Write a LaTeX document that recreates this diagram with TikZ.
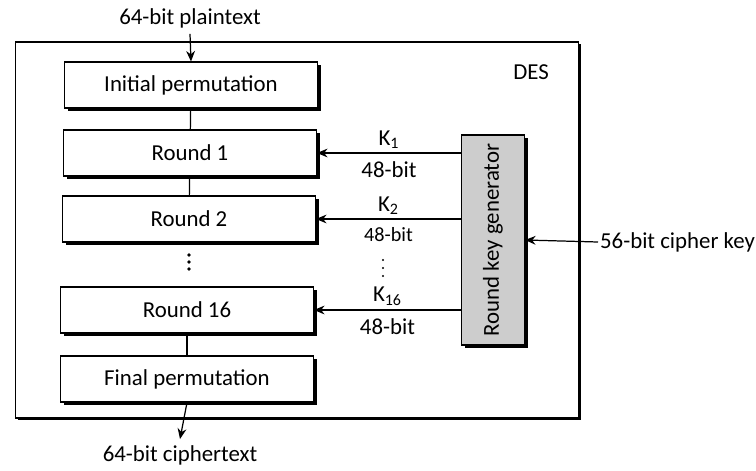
\documentclass[tikz,border=0pt]{standalone}
\usepackage{fontspec}
\setmainfont{Carlito}
\usetikzlibrary{arrows.meta,positioning,shadows}
\definecolor{keygray}{RGB}{205,205,205}

\begin{document}
\begin{tikzpicture}[x=0.02cm,y=-0.02cm,
  font=\fontsize{13}{16}\selectfont,
  stage/.style={draw,fill=white,line width=0.6pt,minimum width=5.06cm,minimum height=0.92cm,
    drop shadow={shadow xshift=1.8pt,shadow yshift=-1.8pt,opacity=1,fill=black}},
  keybox/.style={draw,fill=keygray,line width=0.6pt,minimum width=1.26cm,minimum height=4.2cm,
    drop shadow={shadow xshift=1.8pt,shadow yshift=-1.8pt,opacity=1,fill=black}},
  link/.style={line width=0.7pt},
  flow/.style={line width=0.7pt,-{Stealth[length=6pt,width=5pt]}}]
\useasboundingbox (0,0) rectangle (756,470);
% outer DES frame
\node[draw,fill=white,line width=0.8pt,minimum width=11.26cm,minimum height=7.52cm,
  drop shadow={shadow xshift=1.2pt,shadow yshift=-1.2pt,opacity=1,fill=black}] (des) at (297,230) {};
\node (deslbl) at (531,72) {DES};
% stages
\node[stage] (ip) at (191,85) {Initial permutation};
\node[stage] (r1) at (190,153) {Round 1};
\node[stage] (r2) at (189,219) {Round 2};
\node[stage] (r16) at (187,310) {Round 16};
\node[stage] (fp) at (187,379) {Final permutation};
\draw[link] (ip) -- (r1);
\draw[link] (r1) -- (r2);
\draw[link] (r16) -- (fp);
\foreach \y in {255,262,269} \fill (189,\y) circle (1.8);
% input / output
\node (plain) at (190,18) {64-bit plaintext};
\node (cipher) at (180,455) {64-bit ciphertext};
\draw[flow] (plain.south) -- (ip.north);
\draw[flow] (fp.south) -- (cipher.north);
% key schedule
\node[keybox] (keygen) at (493,240) {};
\node[rotate=90] (keylbl) at (keygen) {Round key generator};
\node[anchor=west,inner xsep=1pt] (key) at (598,242) {56-bit cipher key};
\draw[flow] (key.west) -- (keygen.east);
\draw[flow] (keygen.west |- r1.east) -- node[above=-1pt]{K\textsubscript{1}} node[below=1pt]{48-bit} (r1.east);
\draw[flow] (keygen.west |- r2.east) -- node[above=-1pt]{K\textsubscript{2}} node[below=1pt,font=\fontsize{11.5}{13}\selectfont]{48-bit} (r2.east);
\draw[flow] (keygen.west |- r16.east) -- node[above=-1pt]{K\textsubscript{16}} node[below=1pt]{48-bit} (r16.east);
\foreach \y in {260,268,276} \fill (383,\y) circle (1.2);
\end{tikzpicture}
\end{document}
